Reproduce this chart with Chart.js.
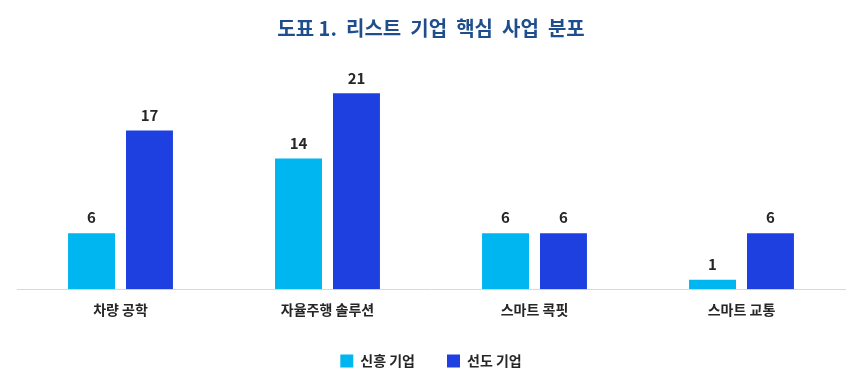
<!DOCTYPE html>
<html>
<head>
<meta charset="utf-8">
<script src="https://cdn.jsdelivr.net/npm/chart.js@4.4.0/dist/chart.umd.min.js"></script>
<style>
  html, body { margin: 0; padding: 0; background: #ffffff; }
  #wrap { width: 867px; height: 386px; }
</style>
</head>
<body>
<div id="wrap"><canvas id="chart"></canvas></div>
<script>
const categories = ['차량 공학', '자율주행 솔루션', '스마트 콕핏', '스마트 교통'];
const emergingValues = [6, 14, 6, 1];
const leadingValues = [17, 21, 6, 6];
const seriesNames = ['신흥 기업', '선도 기업'];

const fontFamily = "'Noto Sans CJK KR', 'Noto Sans', sans-serif";

// value labels above each bar
const barValueLabels = {
    id: 'barValueLabels',
    afterDatasetsDraw(chart) {
        const ctx = chart.ctx;
        ctx.save();
        ctx.fillStyle = '#262626';
        ctx.font = 'bold 15px ' + fontFamily;
        ctx.textAlign = 'center';
        ctx.textBaseline = 'bottom';
        chart.data.datasets.forEach((ds, i) => {
            chart.getDatasetMeta(i).data.forEach((bar, j) => {
                ctx.fillText(ds.data[j], bar.x, bar.y - 8);
            });
        });
        ctx.restore();
    }
};

const ctx = document.getElementById('chart').getContext('2d');
const chart = new Chart(ctx, {
    type: 'bar',
    data: {
        labels: categories,
        datasets: [{
            label: seriesNames[0],
            data: emergingValues,
            backgroundColor: '#00B6F1',
        }, {
            label: seriesNames[1],
            data: leadingValues,
            backgroundColor: '#1E40E0',
        }]
    },
    options: {
        responsive: true,
        maintainAspectRatio: false,
        animation: false,
        categoryPercentage: 0.56,
        barPercentage: 0.81,
        layout: {
            padding: { left: 17, right: 22, top: 0, bottom: 8 }
        },
        scales: {
            x: {
                grid: { display: false },
                border: { display: true, color: '#d9d9d9', width: 1 },
                ticks: {
                    color: '#262626',
                    font: { family: fontFamily, size: 14, weight: 'bold' },
                    padding: 4
                }
            },
            y: {
                display: false,
                min: 0,
                max: 25
            }
        },
        plugins: {
            title: {
                display: true,
                text: '도표 1.  리스트  기업  핵심  사업  분포',
                color: '#1F4E8C',
                font: { family: fontFamily, size: 20, weight: 'bold' },
                padding: { top: 16, bottom: 16 }
            },
            legend: {
                position: 'bottom',
                labels: {
                    color: '#262626',
                    font: { family: fontFamily, size: 14, weight: 'bold' },
                    boxWidth: 13,
                    boxHeight: 13,
                    padding: 32
                }
            },
            tooltip: { enabled: false }
        }
    },
    plugins: [barValueLabels]
});
</script>
</body>
</html>
